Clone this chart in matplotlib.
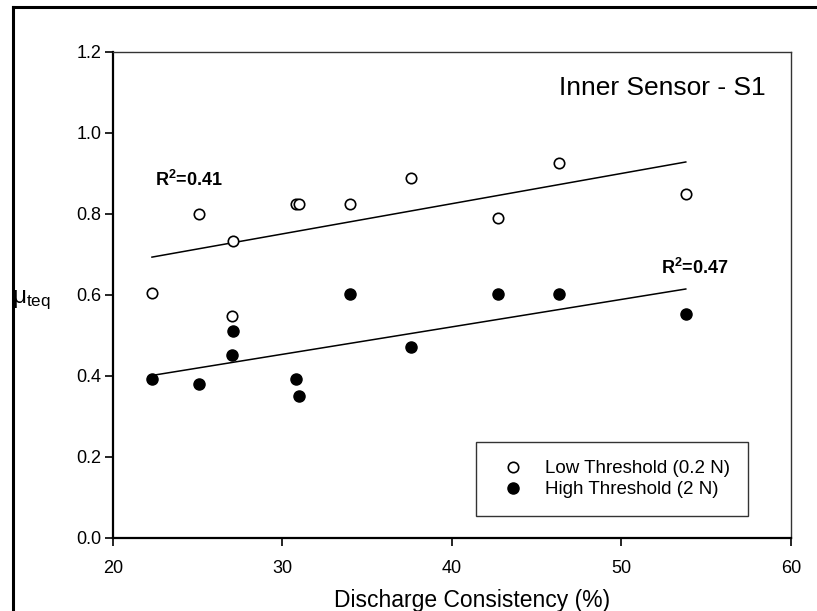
import numpy as np
import matplotlib
matplotlib.use("Agg")
import matplotlib.pyplot as plt
from matplotlib.lines import Line2D

plt.rcParams['font.family'] = ['Liberation Sans', 'DejaVu Sans']
plt.rcParams['mathtext.fontset'] = 'custom'
plt.rcParams['mathtext.rm'] = 'Liberation Sans'
plt.rcParams['mathtext.it'] = 'Liberation Sans:italic'
plt.rcParams['mathtext.bf'] = 'Liberation Sans:bold'

# Discharge consistency (%) and mu_teq
low_x = [22.3, 25.1, 27.0, 27.1, 30.8, 31.0, 34.0, 37.6, 42.7, 46.3, 53.8]
low_y = [0.605, 0.80, 0.548, 0.733, 0.825, 0.825, 0.825, 0.89, 0.79, 0.925, 0.85]
high_x = [22.3, 25.1, 27.0, 27.1, 30.8, 31.0, 34.0, 37.6, 42.7, 46.3, 53.8]
high_y = [0.392, 0.381, 0.452, 0.512, 0.392, 0.351, 0.602, 0.472, 0.603, 0.603, 0.552]

xticks = [20, 30, 40, 50, 60]
yticks = [0.0, 0.2, 0.4, 0.6, 0.8, 1.0, 1.2]

fig = plt.figure(figsize=(8.17, 6.11), dpi=100)
ax = fig.add_axes([0.1383, 0.1195, 0.8297, 0.7954])

ax.plot(low_x, low_y, 'o', mfc='white', mec='black', mew=1.2, ms=7.5,
        label='Low Threshold (0.2 N)', zorder=3)
ax.plot(high_x, high_y, 'o', mfc='black', mec='black', ms=8,
        label='High Threshold (2 N)', zorder=3)

# linear regression lines
for xs, ys in [(low_x, low_y), (high_x, high_y)]:
    xs = np.array(xs)
    k, b = np.polyfit(xs, ys, 1)
    xl = np.array([xs.min(), xs.max()])
    ax.plot(xl, k * xl + b, color='black', lw=1.1, zorder=2)

ax.text(22.45, 0.885, r'R$^{\mathbf{2}}$=0.41', fontsize=13, fontweight='bold', va='center')
ax.text(52.35, 0.668, r'R$^{\mathbf{2}}$=0.47', fontsize=13, fontweight='bold', va='center')
ax.text(58.5, 1.11, 'Inner Sensor - S1', fontsize=19, ha='right', va='center')

ax.set_xlim(20, 60)
ax.set_ylim(0, 1.2)
ax.set_xticks(xticks)
ax.set_yticks(yticks)
ax.set_yticklabels([f'{v:.1f}' for v in yticks])
ax.tick_params(direction='out', length=6, width=1.2, labelsize=13)
ax.tick_params(axis='x', pad=10)
ax.tick_params(axis='y', pad=2.5)

for s in ['left', 'bottom']:
    ax.spines[s].set_linewidth(1.6)
for s in ['top', 'right']:
    ax.spines[s].set_linewidth(1.0)
    ax.spines[s].set_color('#333333')

ax.set_xlabel('Discharge Consistency (%)', fontsize=16.5)
ax.xaxis.set_label_coords(0.53, -0.105)
ax.set_ylabel(r'μ$_{\mathrm{teq}}$', fontsize=17.5, rotation=0, ha='left', va='center')
ax.yaxis.set_label_coords(-0.149, 0.49)

leg = ax.legend(loc='lower right', bbox_to_anchor=(0.937, 0.045), fontsize=13.5,
                frameon=True, fancybox=False, edgecolor='black', borderpad=0.95,
                handletextpad=0.75, labelspacing=0.2, borderaxespad=0)
leg.get_frame().set_linewidth(1.0)

# outer frame (only left and top edges visible in the crop)
fig.add_artist(Line2D([0.0153, 0.0153], [0, 0.988], transform=fig.transFigure, color='black', lw=2.2))
fig.add_artist(Line2D([0.0153, 1.0], [0.988, 0.988], transform=fig.transFigure, color='black', lw=2.2))

fig.savefig('out.png', dpi=100)
